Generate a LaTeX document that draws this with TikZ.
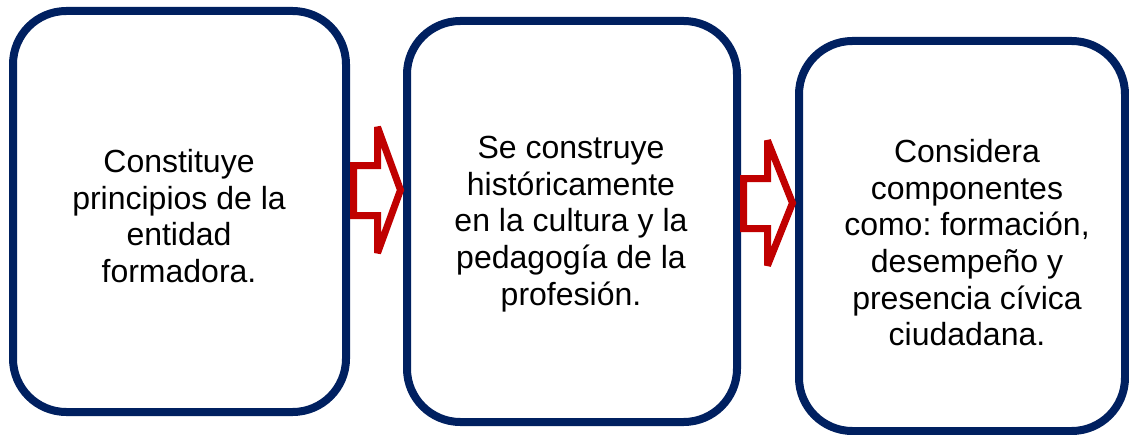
\documentclass[tikz,border=0pt]{standalone}
\usepackage{fontspec}
\setmainfont{Liberation Sans}
\frenchspacing
\definecolor{navy}{HTML}{002060}
\definecolor{darkred}{HTML}{C00000}
\begin{document}
\begin{tikzpicture}[x=0.75pt,y=-0.75pt,
  box/.style={draw=navy,line width=6pt,rounded corners=40pt,fill=white,inner sep=0pt},
  blockarrow/.style={draw=darkred,line width=5.25pt,fill=white,line join=miter,miter limit=2},
  txt/.style={align=center,anchor=north,inner sep=0pt,font=\fontsize{24pt}{27.5pt}\selectfont}]
\useasboundingbox (0,0) rectangle (1129,435);

% boxes
\node[box,minimum width=249.75pt,minimum height=300.75pt] (b1) at (179.5,211.5) {};
\node[box,minimum width=247.5pt,minimum height=300.75pt] (b2) at (572,221.5) {};
\node[box,minimum width=244.5pt,minimum height=292.5pt] (b3) at (962,236) {};

% block arrows
\draw[blockarrow] (353.5,165.5) -- (377.5,165.5) -- (377.5,127) -- (400.5,190)
  -- (377.5,253) -- (377.5,215.5) -- (353.5,215.5) -- cycle;
\draw[blockarrow] (743.5,178.5) -- (767.5,178.5) -- (767.5,140.5) -- (792.5,203)
  -- (767.5,265.5) -- (767.5,228.5) -- (743.5,228.5) -- cycle;

% texts
\node[txt] (t1) at (179,149) {Constituye\\principios de la\\entidad\\formadora.};
\node[txt] (t2) at (571,136) {Se construye\\históricamente\\en la cultura y la\\pedagogía de la\\profesión.};
\node[txt] (t3) at (967,139) {Considera\\componentes\\como: formación,\\desempeño y\\presencia cívica\\ciudadana.};
\end{tikzpicture}
\end{document}
